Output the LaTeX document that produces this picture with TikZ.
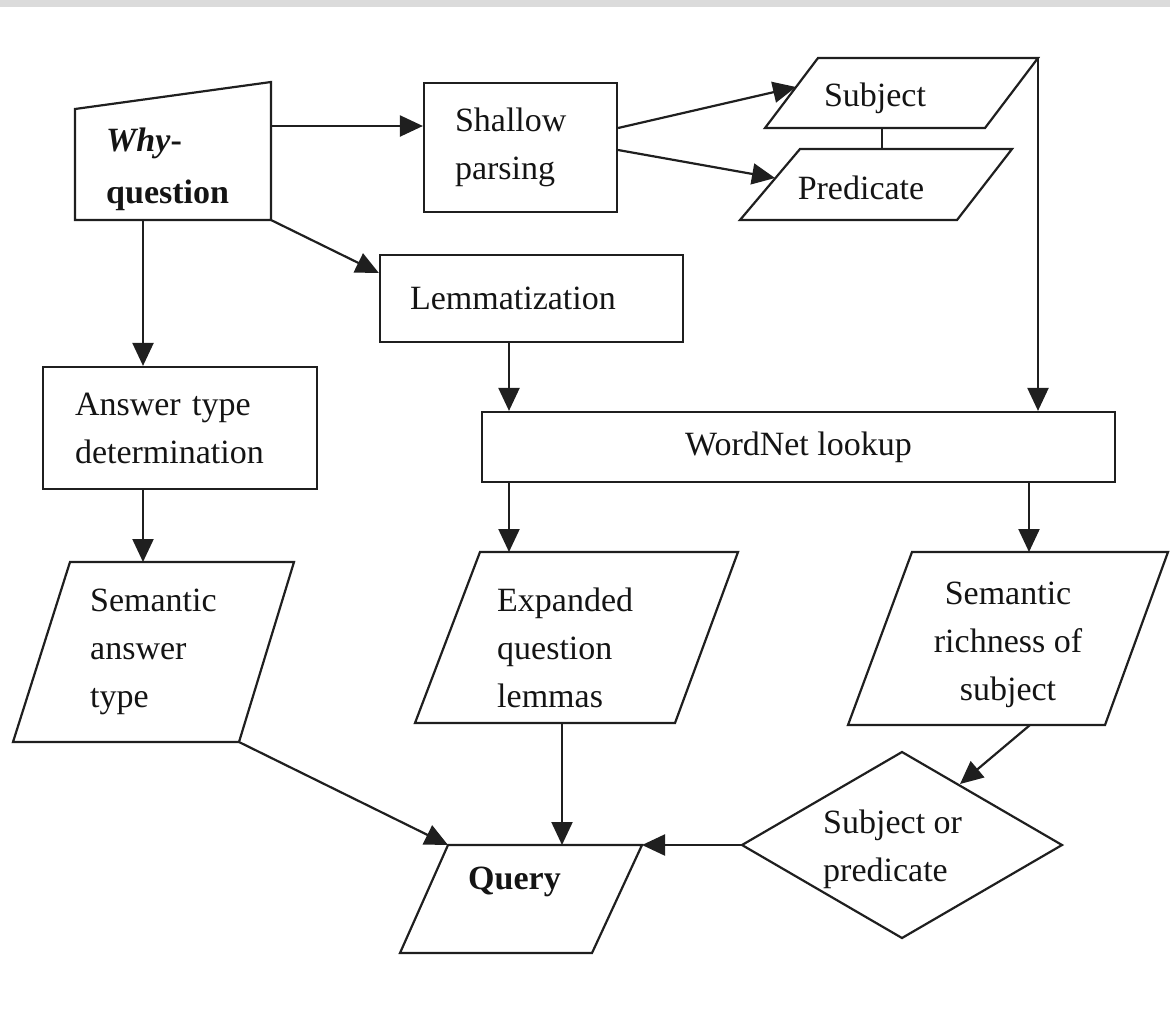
\documentclass[tikz,border=0pt]{standalone}
\usepackage{fontspec}
\setmainfont{Liberation Serif}
\usetikzlibrary{arrows.meta}
\begin{document}
\begin{tikzpicture}[x=1pt,y=-1pt,
  shp/.style={draw=black!88, line width=2.2pt, line join=miter},
  con/.style={draw=black!88, line width=2.2pt},
  arr/.style={con, -{Triangle[length=23pt,width=21pt]}},
  txt/.style={inner sep=0pt, font=\fontsize{34}{48}\selectfont, align=left, text=black!92},
  box/.style={shp, font=\fontsize{34}{48}\selectfont, align=left, text=black!92, inner ysep=0pt},
]
\useasboundingbox (0,0) rectangle (1170,1034);
\fill[gray!28] (0,0) rectangle (1170,7);

% Why-question (manual input)
\coordinate (wq1) at (75,109);
\coordinate (wq2) at (271,82);
\coordinate (wq3) at (271,220);
\coordinate (wq4) at (75,220);
\draw[shp] (wq1) -- (wq2) -- (wq3) -- (wq4) -- cycle;
\node[txt, anchor=west, font=\fontsize{34}{52}\selectfont] (whyt) at (106,169) {\textbf{\textit{Why}}\textbf{-}\\\textbf{question}};
\coordinate (wqR) at (271,126);
\coordinate (wqB) at (143,220);

% Rectangles
\node[box, minimum width=193pt, minimum height=129pt, text width=131pt, inner xsep=31pt] (shallow) at (520.5,147.5) {Shallow\\parsing};
\node[box, minimum width=303pt, minimum height=87pt, text width=243pt, inner xsep=30pt] (lemma) at (531.5,298.5) {Lemmatization};
\node[box, minimum width=274pt, minimum height=122pt, text width=210pt, inner xsep=32pt] (answer) at (180,428) {Answer type\\determination};
\node[shp, minimum width=633pt, minimum height=70pt, inner sep=0pt, font=\fontsize{34}{48}\selectfont, text=black!92] (wordnet) at (798.5,447) {WordNet lookup};

% Subject / Predicate
\coordinate (s1) at (818,58);
\coordinate (s2) at (1038,58);
\coordinate (s3) at (985,128);
\coordinate (s4) at (765,128);
\draw[shp] (s1) -- (s2) -- (s3) -- (s4) -- cycle;
\node[txt] (subjt) at (875,98) {Subject};
\coordinate (p1) at (800,149);
\coordinate (p2) at (1012,149);
\coordinate (p3) at (957,220);
\coordinate (p4) at (740,220);
\draw[shp] (p1) -- (p2) -- (p3) -- (p4) -- cycle;
\node[txt] (predt) at (861,188) {Predicate};
\coordinate (sB) at (882,128);
\coordinate (pT) at (882,149);
\coordinate (sIn) at (796,87);
\coordinate (pIn) at (775,178);

% Semantic answer type
\coordinate (a1) at (70,562);
\coordinate (a2) at (294,562);
\coordinate (a3) at (239,742);
\coordinate (a4) at (13,742);
\draw[shp] (a1) -- (a2) -- (a3) -- (a4) -- cycle;
\node[txt, anchor=west] (semat) at (90,652) {Semantic\\answer\\type};
\coordinate (aT) at (143,562);

% Expanded question lemmas
\coordinate (e1) at (480,552);
\coordinate (e2) at (738,552);
\coordinate (e3) at (675,723);
\coordinate (e4) at (415,723);
\draw[shp] (e1) -- (e2) -- (e3) -- (e4) -- cycle;
\node[txt, anchor=west] (expt) at (497,648) {Expanded\\question\\lemmas};
\coordinate (eT) at (509,552);
\coordinate (eB) at (562,723);

% Semantic richness of subject
\coordinate (r1) at (912,552);
\coordinate (r2) at (1168,552);
\coordinate (r3) at (1105,725);
\coordinate (r4) at (848,725);
\draw[shp] (r1) -- (r2) -- (r3) -- (r4) -- cycle;
\node[txt, align=center] (richt) at (1008,645) {Semantic\\richness of\\subject};
\coordinate (rT) at (1029,552);
\coordinate (rB) at (1030,725);

% Diamond
\coordinate (d1) at (902,752);
\coordinate (d2) at (1062,845);
\coordinate (d3) at (902,938);
\coordinate (d4) at (742,845);
\draw[shp] (d1) -- (d2) -- (d3) -- (d4) -- cycle;
\node[txt, anchor=west] (diat) at (823,849) {Subject or\\predicate};
\coordinate (dIn) at (960,784);

% Query
\coordinate (q1) at (448,845);
\coordinate (q2) at (642,845);
\coordinate (q3) at (592,953);
\coordinate (q4) at (400,953);
\draw[shp] (q1) -- (q2) -- (q3) -- (q4) -- cycle;
\node[txt, anchor=west] (queryt) at (468,882) {\textbf{Query}};
\coordinate (qT) at (562,845);

% Connectors
\draw[arr] (wqR) -- (shallow.west |- wqR);
\draw[arr] (wq3) -- (lemma.north west |- 0,273) ;
\draw[arr] (wqB) -- (answer.north -| wqB);
\draw[arr] (shallow.east |- 0,128) -- (sIn);
\draw[arr] (shallow.east |- 0,150) -- (pIn);
\draw[con] (sB) -- (pT);
\draw[arr] (s2) -- (wordnet.north -| s2);
\draw[arr] (lemma.south -| 509,0) -- (wordnet.north -| 509,0);
\draw[arr] (answer.south -| wqB) -- (aT);
\draw[arr] (wordnet.south -| eT) -- (eT);
\draw[arr] (wordnet.south -| rT) -- (rT);
\draw[arr] (a3) -- (q1);
\draw[arr] (eB) -- (qT);
\draw[arr] (rB) -- (dIn);
\draw[arr] (d4) -- (q2);
\end{tikzpicture}
\end{document}
